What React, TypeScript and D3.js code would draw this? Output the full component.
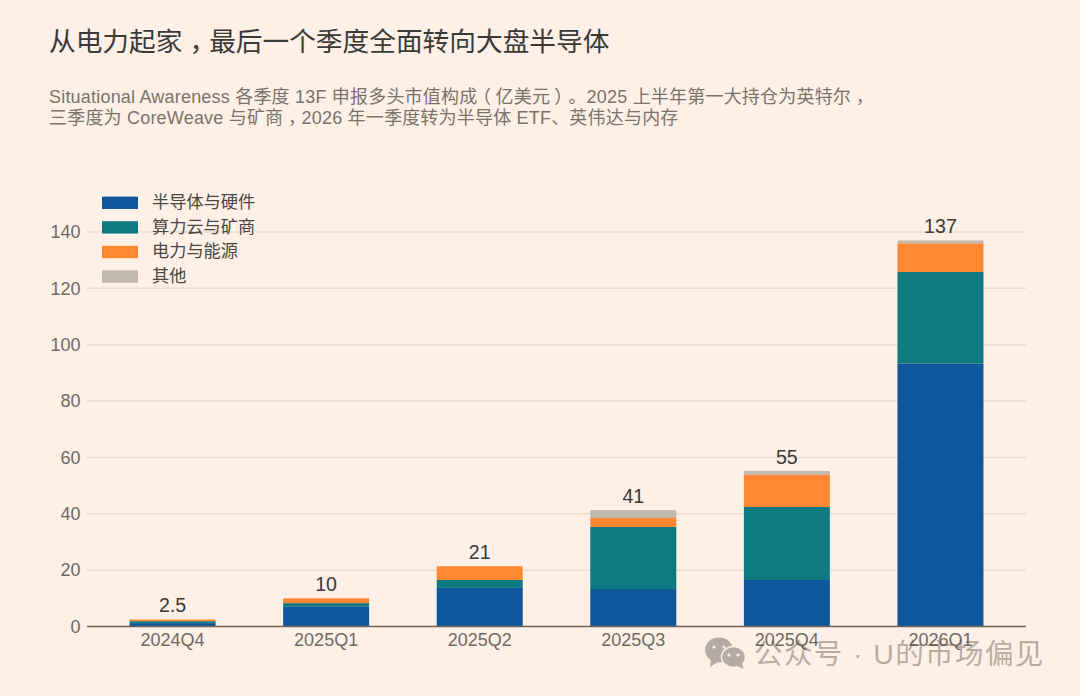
import { useEffect, useRef } from "react";
import * as d3 from "d3";

const quarters = ["2024Q4", "2025Q1", "2025Q2", "2025Q3", "2025Q4", "2026Q1"];
const seriesNames = ["半导体与硬件", "算力云与矿商", "电力与能源", "其他"];
const seriesColors = ["#10569b", "#0f7981", "#ff8833", "#c2b8ac"];
const semis = [1.2, 7.0, 13.7, 13.3, 16.5, 93.3];
const cloud = [0.7, 1.3, 2.8, 22.0, 25.9, 32.5];
const power = [0.6, 1.7, 4.9, 3.2, 11.4, 10.2];
const other = [0, 0, 0, 2.8, 1.4, 1.0];
const totalLabels = ["2.5", "10", "21", "41", "55", "137"];
const yTicks = [0, 20, 40, 60, 80, 100, 120, 140];

const FONT = '"Liberation Sans", "Noto Sans CJK SC", sans-serif';

// The reference centres its full-width punctuation in the cell, so nudge those glyphs
function addCentredText(sel: any, text: string, size: number) {
  const shift: Record<string, number> = { "，": 0.26, "（": -0.25, "）": 0.22 };
  let back = 0;
  sel.style("text-spacing-trim", "space-all");
  text.split(/([，（）])/).forEach((part) => {
    if (!part) return;
    const s = (shift[part] ?? 0) * size;
    sel.append("tspan").attr("dx", back + s).text(part);
    back = -s;
  });
}

export default function App() {
  const svgRef = useRef<SVGSVGElement>(null);

  useEffect(() => {
    if (!svgRef.current) return;
    const svg = d3.select(svgRef.current);
    const width = 1080;
    const height = 696;
    svg.selectAll("*").remove();
    svg.attr("width", width).attr("height", height);

    svg.append("rect").attr("width", width).attr("height", height).attr("fill", "#fef0e6");

    const x = d3
      .scaleBand()
      .domain(quarters)
      .range([87, 1026])
      .paddingInner(0.44)
      .paddingOuter(0.277);
    const y = d3.scaleLinear().domain([0, 140]).range([626.5, 232]);

    // Title and subtitle
    const title = svg
      .append("text")
      .attr("x", 49)
      .attr("y", 51)
      .attr("fill", "#3a3a38")
      .attr("font-family", FONT)
      .attr("font-size", 26.7);
    addCentredText(title, "从电力起家，最后一个季度全面转向大盘半导体", 26.7);

    const sub1 = svg
      .append("text")
      .attr("x", 49)
      .attr("y", 102.5)
      .attr("fill", "#7a736c")
      .attr("font-family", FONT)
      .attr("font-size", 18)
      .attr("letter-spacing", 0.2);
    addCentredText(sub1, "Situational Awareness 各季度 13F 申报多头市值构成（亿美元）。2025 上半年第一大持仓为英特尔，", 18);
    const sub2 = svg
      .append("text")
      .attr("x", 49)
      .attr("y", 124)
      .attr("fill", "#7a736c")
      .attr("font-family", FONT)
      .attr("font-size", 18)
      .attr("letter-spacing", 0.2);
    addCentredText(sub2, "三季度为 CoreWeave 与矿商，2026 年一季度转为半导体 ETF、英伟达与内存", 18);

    // Grid and y axis labels
    yTicks.forEach((t) => {
      if (t > 0) {
        svg
          .append("line")
          .attr("x1", 87)
          .attr("x2", 1026)
          .attr("y1", y(t))
          .attr("y2", y(t))
          .attr("stroke", "#e9ddd2")
          .attr("stroke-width", 1.5);
      }
      svg
        .append("text")
        .attr("x", 80.5)
        .attr("y", y(t) + 6.3)
        .attr("text-anchor", "end")
        .attr("fill", "#6f6963")
        .attr("font-family", FONT)
        .attr("font-size", 18)
        .text(t);
    });

    // Stacked bars
    const rows = quarters.map((q, i) => ({
      quarter: q,
      s0: semis[i],
      s1: cloud[i],
      s2: power[i],
      s3: other[i],
    }));
    const stacked = d3.stack<any>().keys(["s0", "s1", "s2", "s3"])(rows);
    stacked.forEach((layer, li) => {
      svg
        .append("g")
        .selectAll("rect")
        .data(layer)
        .join("rect")
        .attr("x", (d: any) => x(d.data.quarter)!)
        .attr("width", x.bandwidth())
        .attr("y", (d: any) => y(d[1]))
        .attr("height", (d: any) => y(d[0]) - y(d[1]))
        .attr("fill", seriesColors[li]);
    });

    // Baseline
    svg
      .append("line")
      .attr("x1", 87)
      .attr("x2", 1026)
      .attr("y1", y(0))
      .attr("y2", y(0))
      .attr("stroke", "#6b6560")
      .attr("stroke-width", 1.4);

    // Total labels
    const tops = stacked[3];
    quarters.forEach((q, i) => {
      svg
        .append("text")
        .attr("x", x(q)! + x.bandwidth() / 2)
        .attr("y", y(tops[i][1]) - 7)
        .attr("text-anchor", "middle")
        .attr("fill", "#3a3a38")
        .attr("font-family", FONT)
        .attr("font-size", 19.6)
        .text(totalLabels[i]);

      svg
        .append("text")
        .attr("x", x(q)! + x.bandwidth() / 2)
        .attr("y", 645.5)
        .attr("text-anchor", "middle")
        .attr("fill", "#6f6963")
        .attr("font-family", FONT)
        .attr("font-size", 18)
        .text(q);
    });

    // Legend
    seriesNames.forEach((name, i) => {
      const ly = 196.6 + i * 24.6;
      svg
        .append("rect")
        .attr("x", 102)
        .attr("y", ly)
        .attr("width", 36)
        .attr("height", 12.4)
        .attr("fill", seriesColors[i]);
      svg
        .append("text")
        .attr("x", 152)
        .attr("y", ly + 11.5)
        .attr("fill", "#4a4641")
        .attr("font-family", FONT)
        .attr("font-size", 17.2)
        .text(name);
    });

    // Watermark, see-through so the axis labels show under it
    const mark = svg.append("g").attr("fill", "#b3aca3");
    mark.append("ellipse").attr("cx", 719).attr("cy", 650).attr("rx", 14).attr("ry", 12.5);
    mark.append("path").attr("d", "M711 659 L710 667 L719 661 Z");
    mark
      .append("ellipse")
      .attr("cx", 733.5)
      .attr("cy", 657)
      .attr("rx", 12)
      .attr("ry", 10.5)
      .attr("stroke", "#fef0e6")
      .attr("stroke-width", 1.5);
    mark.append("path").attr("d", "M737 666 L743.5 669 L742 663 Z");
    [
      [714, 647],
      [724, 647],
      [729, 655],
      [738, 655],
    ].forEach(([cx, cy]) => {
      mark.append("circle").attr("cx", cx).attr("cy", cy).attr("r", 1.6).attr("fill", "#fef0e6");
    });
    svg
      .append("text")
      .attr("x", 754)
      .attr("y", 664)
      .attr("fill", "#4a4038")
      .attr("opacity", 0.38)
      .attr("font-family", FONT)
      .attr("font-size", 28.5)
      .attr("letter-spacing", 1.4)
      .text("公众号 · U的市场偏见");
  }, []);

  return (
    <div style={{ position: "absolute", left: 0, top: 0 }}>
      <svg ref={svgRef} style={{ display: "block" }}></svg>
    </div>
  );
}
